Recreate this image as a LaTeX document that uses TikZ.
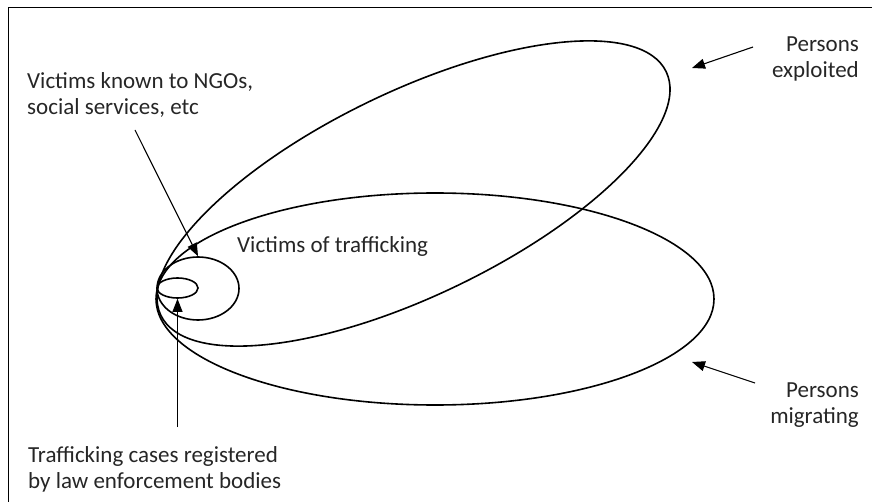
\documentclass[tikz,border=0pt]{standalone}
\usepackage{fontspec}
\setmainfont{Carlito}
\usetikzlibrary{shapes.geometric,arrows.meta}
\begin{document}
\begin{tikzpicture}[x=1pt,y=-1pt,
  setshape/.style={draw, ellipse, line width=1.6pt, inner sep=0pt},
  lbl/.style={font=\fontsize{23}{26}\selectfont, inner sep=0pt, text=black!85},
  ptr/.style={line width=1.1pt, -{Triangle[length=13pt,width=10pt]}}]
\useasboundingbox (0,0) rectangle (872,502);
\draw[line width=1pt] (8,502) -- (8,8) -- (872,8);
% sets
\node[setshape, minimum width=561pt, minimum height=204pt, rotate=25.75] (expl) at (413.5,193.5) {};
\node[setshape, minimum width=558pt, minimum height=212pt] (migr) at (435,299) {};
\node[setshape, minimum width=82pt, minimum height=63pt] (vict) at (198,288.5) {};
\node[setshape, minimum width=41pt, minimum height=20pt] (reg) at (177.5,288) {};
% labels
\node[lbl, anchor=north west, align=left] (ngo) at (27,72) {Victims known to NGOs,\\social services, etc};
\node[lbl, anchor=base west] (voft) at (237,253) {Victims of trafficking};
\node[lbl, anchor=north west, align=left] (cases) at (28,446) {Trafficking cases registered\\by law enforcement bodies};
\node[lbl, anchor=north east, align=right] (pexp) at (859,37) {Persons\\exploited};
\node[lbl, anchor=north east, align=right] (pmig) at (859,383) {Persons\\migrating};
% pointers
\coordinate (ngoS) at (135,130);
\coordinate (casesT) at (177.5,427);
\coordinate (expS) at (753,47);
\coordinate (expT) at (692,68);
\coordinate (migS) at (755,383);
\coordinate (migT) at (692,362);
\draw[ptr] (ngoS) -- (vict.north);
\draw[ptr] (casesT) -- (reg.south);
\draw[ptr] (expS) -- (expT);
\draw[ptr] (migS) -- (migT);
\end{tikzpicture}
\end{document}
